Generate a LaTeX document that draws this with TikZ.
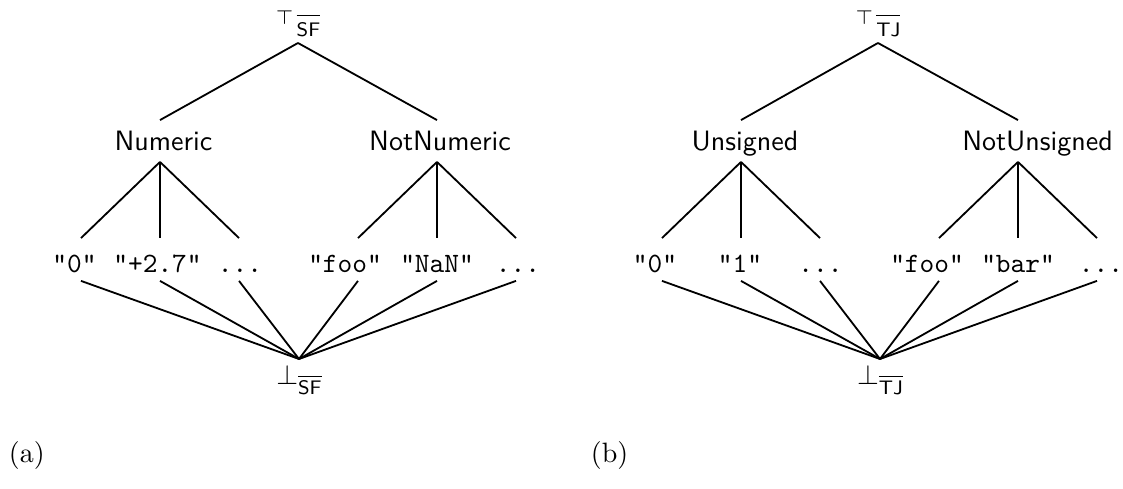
\documentclass[tikz,border=0pt]{standalone}
% one drawing unit = 1/2.8 pt
\newcommand{\pxu}{0.35714pt}
% top and bottom elements of a lattice, indexed by an overlined name
\newcommand{\toplbl}[1]{$\scriptstyle\top$\hspace{1.2pt}\raisebox{-4.3pt}{$\scriptstyle\overline{\rule{0pt}{6.1pt}\smash{\mathsf{#1}}}$}}
\newcommand{\botlbl}[1]{$\bot$\raisebox{-3.6pt}{$\scriptstyle\overline{\mathsf{#1}}$}}
\begin{document}
\begin{tikzpicture}[x=0.35714pt,y=-0.35714pt,line width=0.65pt,
  topnode/.style={inner xsep=0pt,inner ysep=2.1pt,anchor=south},
  botnode/.style={inner xsep=0pt,inner ysep=1.8pt,anchor=north},
  midnode/.style={font=\sffamily,inner sep=0pt,minimum height=14.29pt,text height=7pt,text depth=0pt},
  leafnode/.style={font=\ttfamily,inner sep=0pt,minimum height=14.64pt,text height=9pt,text depth=0pt},
  caption/.style={anchor=base west,inner sep=0pt}]
\path[use as bounding box] (0,0) rectangle (1123,489);

% ---------- (a) string formats ----------
\node[topnode] (ta) at (298,43) {\toplbl{SF}};
\node[midnode] (na) at (163.5,141) {Numeric};
\node[midnode] (nna) at (440,141) {NotNumeric};
\node[leafnode] (a1) at (74.5,259.5) {"0"};
\node[leafnode] (a2) at (157.5,259.5) {"+2.7"};
\node[leafnode] (a3) at (240,259.5) {...};
\node[leafnode] (a4) at (345,259.5) {"foo"};
\node[leafnode] (a5) at (437,259.5) {"NaN"};
\node[leafnode] (a6) at (518,259.5) {...};
\node[botnode] (ba) at (299,359) {\botlbl{SF}};

\draw (ta.south) -- ([xshift=-3.5*\pxu]na.north);
\draw (ta.south) -- ([xshift=-3*\pxu]nna.north);
\draw ([xshift=-3.5*\pxu]na.south) -- ([xshift=6.5*\pxu]a1.north);
\draw ([xshift=-3.5*\pxu]na.south) -- ([xshift=2.5*\pxu]a2.north);
\draw ([xshift=-3.5*\pxu]na.south) -- ([xshift=-1*\pxu]a3.north);
\draw ([xshift=-3*\pxu]nna.south) -- ([xshift=13*\pxu]a4.north);
\draw ([xshift=-3*\pxu]nna.south) -- (a5.north);
\draw ([xshift=-3*\pxu]nna.south) -- ([xshift=-2*\pxu]a6.north);
\draw ([xshift=6.5*\pxu]a1.south) -- (ba.north);
\draw ([xshift=2.5*\pxu]a2.south) -- (ba.north);
\draw ([xshift=-1*\pxu]a3.south) -- (ba.north);
\draw ([xshift=13*\pxu]a4.south) -- (ba.north);
\draw (a5.south) -- (ba.north);
\draw ([xshift=-2*\pxu]a6.south) -- (ba.north);

\node[caption] (capa) at (8,463) {(a)};

% ---------- (b) type judgements ----------
\node[topnode] (tb) at (878,43) {\toplbl{TJ}};
\node[midnode] (nb) at (745,141) {Unsigned};
\node[midnode] (nnb) at (1037.5,141) {NotUnsigned};
\node[leafnode] (b1) at (655,259.5) {"0"};
\node[leafnode] (b2) at (740,259.5) {"1"};
\node[leafnode] (b3) at (820.5,259.5) {...};
\node[leafnode] (b4) at (927,259.5) {"foo"};
\node[leafnode] (b5) at (1018,259.5) {"bar"};
\node[leafnode] (b6) at (1101,259.5) {...};
\node[botnode] (bb) at (880,359) {\botlbl{TJ}};

\draw (tb.south) -- ([xshift=-4*\pxu]nb.north);
\draw (tb.south) -- ([xshift=-19.5*\pxu]nnb.north);
\draw ([xshift=-4*\pxu]nb.south) -- ([xshift=7*\pxu]b1.north);
\draw ([xshift=-4*\pxu]nb.south) -- ([xshift=1*\pxu]b2.north);
\draw ([xshift=-4*\pxu]nb.south) -- ([xshift=-0.5*\pxu]b3.north);
\draw ([xshift=-19.5*\pxu]nnb.south) -- ([xshift=12*\pxu]b4.north);
\draw ([xshift=-19.5*\pxu]nnb.south) -- (b5.north);
\draw ([xshift=-19.5*\pxu]nnb.south) -- ([xshift=-4*\pxu]b6.north);
\draw ([xshift=7*\pxu]b1.south) -- (bb.north);
\draw ([xshift=1*\pxu]b2.south) -- (bb.north);
\draw ([xshift=-0.5*\pxu]b3.south) -- (bb.north);
\draw ([xshift=12*\pxu]b4.south) -- (bb.north);
\draw (b5.south) -- (bb.north);
\draw ([xshift=-4*\pxu]b6.south) -- (bb.north);

\node[caption] (capb) at (590,463) {(b)};
\end{tikzpicture}
\end{document}
